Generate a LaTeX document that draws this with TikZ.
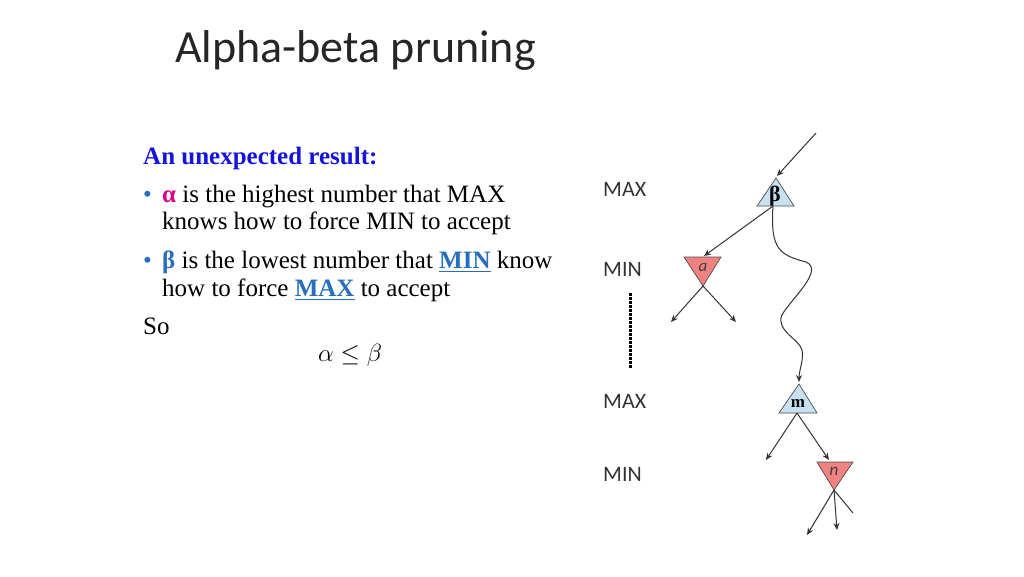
\documentclass[tikz,border=0pt]{standalone}
\usepackage{fontspec}
\usepackage{amssymb}
\setmainfont{Liberation Serif}
\newfontfamily\titlefont{Carlito}
\usetikzlibrary{arrows.meta}
\definecolor{headblue}{RGB}{20,20,220}
\definecolor{alphapink}{RGB}{220,0,130}
\definecolor{linkblue}{RGB}{40,110,190}
\definecolor{maxfill}{RGB}{200,225,240}
\definecolor{minfill}{RGB}{240,130,130}
\tikzset{
  body/.style={anchor=base west,inner sep=0pt,font=\fontsize{25}{29}\selectfont},
  lvl/.style={anchor=base west,inner sep=0pt,font=\titlefont\fontsize{22}{24}\selectfont,text=black!80},
  tri/.style={draw=black!70,line width=0.7pt},
  edge/.style={draw=black!80,line width=1pt,-{Stealth[length=7pt,width=6pt]}},
}
\begin{document}
\begin{tikzpicture}[x=1pt,y=-1pt]
\useasboundingbox (0,0) rectangle (1024,576);
\node[anchor=base west,inner sep=0pt,font=\titlefont\fontsize{46}{50}\selectfont,text=black!85] (title) at (175,62) {Alpha-beta pruning};
\node[body,text=headblue,font=\bfseries\fontsize{25}{29}\selectfont] (head) at (143,164) {An unexpected result:};
\node[body,text=linkblue] (b1) at (143,202) {\textbullet};
\node[body] (l1) at (162,202) {\textcolor{alphapink}{\textbf{α}} is the highest number that MAX};
\node[body] (l2) at (162,229) {knows how to force MIN to accept};
\node[body,text=linkblue] (b2) at (143,268) {\textbullet};
\node[body] (l3) at (162,268) {\textcolor{linkblue}{\textbf{β}} is the lowest number that \textcolor{linkblue}{\textbf{\underline{MIN}}} know};
\node[body] (l4) at (162,296) {how to force \textcolor{linkblue}{\textbf{\underline{MAX}}} to accept};
\node[body] (so) at (143,334) {So};
\node[anchor=base,inner sep=0pt,font=\fontsize{25}{29}\selectfont] (ab) at (350,361) {$\alpha\leq\beta$};

\node[lvl] (t1) at (603,196) {MAX};
\node[lvl] (t2) at (603,276) {MIN};
\node[lvl] (t3) at (603,408) {MAX};
\node[lvl] (t4) at (603,481) {MIN};
\draw[line width=3pt,dash pattern=on 2.5pt off 1.5pt] (630,293) -- (630,368);

% triangles
\filldraw[tri,fill=maxfill] (757,206) -- (776,178) -- (794,206) -- cycle;
\node[inner sep=0pt,font=\bfseries\fontsize{22}{24}\selectfont] (beta) at (775,196) {β};
\filldraw[tri,fill=minfill] (684,257) -- (721,257) -- (703,286) -- cycle;
\node[inner sep=0pt,font=\titlefont\itshape\fontsize{17}{19}\selectfont,text=black!75] (alpha) at (703,267) {a};
\filldraw[tri,fill=maxfill] (779,413) -- (799,384) -- (817,413) -- cycle;
\node[inner sep=0pt,font=\bfseries\fontsize{17}{19}\selectfont] (m) at (798,403) {m};
\filldraw[tri,fill=minfill] (817,462) -- (853,462) -- (834,490) -- cycle;
\node[inner sep=0pt,font=\titlefont\itshape\fontsize{17}{19}\selectfont,text=black!75] (n) at (834,471) {n};

\coordinate (in) at (816,133);
\coordinate (btop) at (777,176);
\coordinate (bbot) at (773,206);
\coordinate (atop) at (704,256);
\coordinate (abot) at (703,286);
\coordinate (al) at (671,322);
\coordinate (ar) at (736,322);
\coordinate (mtop) at (799,382);
\coordinate (mbot) at (797,413);
\coordinate (ml) at (766,460);
\coordinate (ntop) at (829,460);
\coordinate (nbot) at (834,490);
\coordinate (n1) at (807,535);
\coordinate (n2) at (837,530);
\coordinate (n3) at (853,513);

\draw[edge] (in) -- (btop);
\draw[edge] (bbot) -- (atop);
\draw[edge] (abot) -- (al);
\draw[edge] (abot) -- (ar);
\draw[edge] (bbot) .. controls (770,250) and (780,255) .. (806,262)
  .. controls (825,270) and (790,300) .. (782,315)
  .. controls (775,330) and (800,340) .. (802,350)
  .. controls (804,360) and (799,370) .. (mtop);
\draw[edge] (mbot) -- (ml);
\draw[edge] (mbot) -- (ntop);
\draw[edge] (nbot) -- (n1);
\draw[edge] (nbot) -- (n2);
\draw[draw=black!80,line width=1pt] (nbot) -- (n3);
\end{tikzpicture}
\end{document}
